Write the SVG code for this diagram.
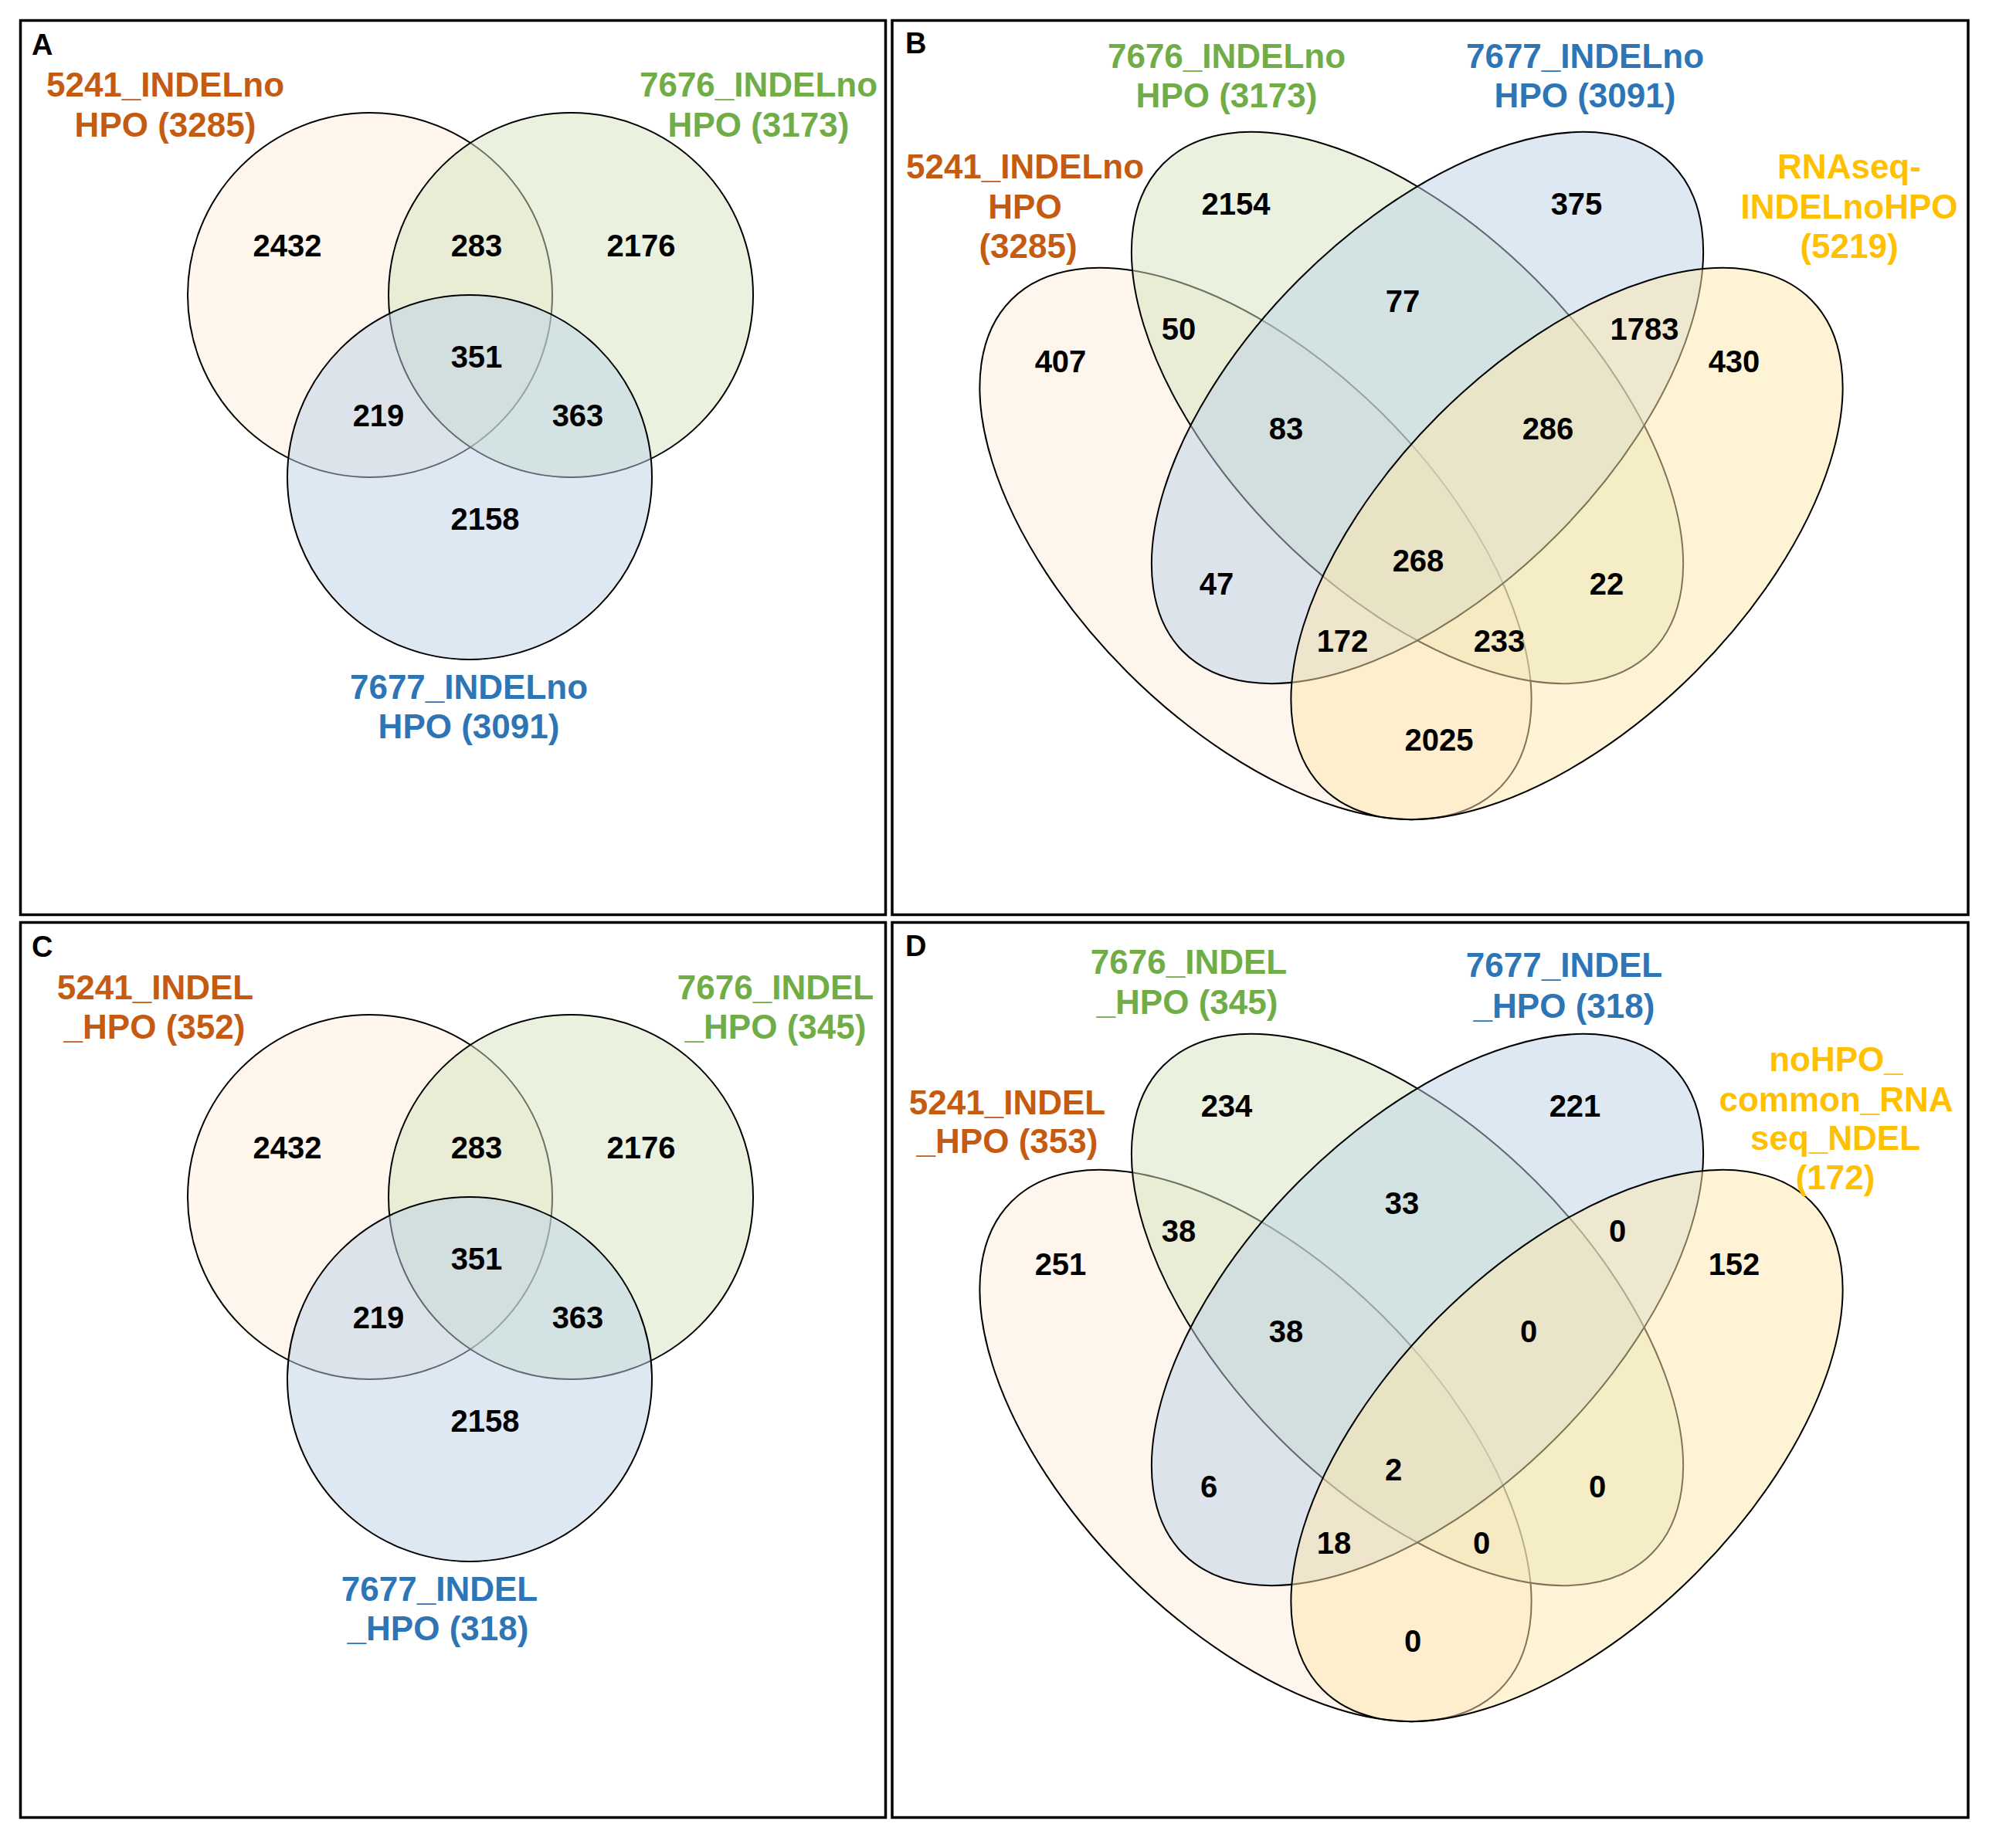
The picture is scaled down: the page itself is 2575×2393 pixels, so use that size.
<svg xmlns="http://www.w3.org/2000/svg" width="2575" height="2393" viewBox="0 0 2575 2393">
<style>
.frame{fill:none;stroke:#000;stroke-width:3.5}
.set{stroke:#000;stroke-width:2;fill-opacity:0.5}
.o{fill:#FDEBD9}.g{fill:#D5E5BF}.b{fill:#BBD1E7}.y{fill:#FFE7AD}
text{font-family:"Liberation Sans",Arial,sans-serif;font-weight:bold}
.num{font-size:40px;text-anchor:middle;fill:#000}
.lbl{font-size:44px;text-anchor:middle}
.tag{font-size:38px;fill:#000}
.co{fill:#C55A11}.cg{fill:#70AD47}.cb{fill:#2E75B6}.cy{fill:#FFC000}
</style>
<rect width="2575" height="2393" fill="#fff"/>

<g id="panelA">
<rect class="frame" x="26.5" y="26.5" width="1120" height="1158"/>
<text class="tag" x="41" y="71">A</text>
<g id="A_5241"><circle class="set o" cx="479" cy="382" r="236"/></g>
<g id="A_7676"><circle class="set g" cx="739" cy="382" r="236"/></g>
<g id="A_7677"><circle class="set b" cx="608" cy="618" r="236"/></g>
<text class="lbl co" x="214" y="125">5241_INDELno</text>
<text class="lbl co" x="214" y="177">HPO (3285)</text>
<text class="lbl cg" x="982" y="125">7676_INDELno</text>
<text class="lbl cg" x="982" y="177">HPO (3173)</text>
<text class="lbl cb" x="607" y="905">7677_INDELno</text>
<text class="lbl cb" x="607" y="956">HPO (3091)</text>
<text class="num" x="372" y="332">2432</text>
<text class="num" x="617" y="332">283</text>
<text class="num" x="830" y="332">2176</text>
<text class="num" x="617" y="476">351</text>
<text class="num" x="490" y="552">219</text>
<text class="num" x="748" y="552">363</text>
<text class="num" x="628" y="686">2158</text>
</g>

<g id="panelB">
<rect class="frame" x="1155" y="26.5" width="1393" height="1158"/>
<text class="tag" x="1172" y="69">B</text>
<g id="B_5241"><ellipse class="set o" cx="1625.5" cy="704" rx="447" ry="235" transform="rotate(45 1625.5 704)"/></g>
<g id="B_7676"><ellipse class="set g" cx="1822" cy="528" rx="447" ry="235" transform="rotate(45 1822 528)"/></g>
<g id="B_7677"><ellipse class="set b" cx="1848" cy="528" rx="447" ry="235" transform="rotate(-45 1848 528)"/></g>
<g id="B_RNAseq"><ellipse class="set y" cx="2028.5" cy="704" rx="447" ry="235" transform="rotate(-45 2028.5 704)"/></g>
<text class="lbl cg" x="1588" y="88">7676_INDELno</text>
<text class="lbl cg" x="1588" y="139">HPO (3173)</text>
<text class="lbl cb" x="2052" y="88">7677_INDELno</text>
<text class="lbl cb" x="2052" y="139">HPO (3091)</text>
<text class="lbl co" x="1327" y="231">5241_INDELno</text>
<text class="lbl co" x="1327" y="283">HPO</text>
<text class="lbl co" x="1331" y="334">(3285)</text>
<text class="lbl cy" x="2394" y="231">RNAseq-</text>
<text class="lbl cy" x="2394" y="283">INDELnoHPO</text>
<text class="lbl cy" x="2394" y="334">(5219)</text>
<text class="num" x="1600" y="278">2154</text>
<text class="num" x="2041" y="278">375</text>
<text class="num" x="1816" y="404">77</text>
<text class="num" x="1526" y="440">50</text>
<text class="num" x="2129" y="440">1783</text>
<text class="num" x="1373" y="482">407</text>
<text class="num" x="2245" y="482">430</text>
<text class="num" x="1665" y="569">83</text>
<text class="num" x="2004" y="569">286</text>
<text class="num" x="1836" y="740">268</text>
<text class="num" x="1575" y="770">47</text>
<text class="num" x="2080" y="770">22</text>
<text class="num" x="1738" y="844">172</text>
<text class="num" x="1941" y="844">233</text>
<text class="num" x="1863" y="972">2025</text>
</g>

<g id="panelC">
<rect class="frame" x="26.5" y="1194.5" width="1120" height="1159"/>
<text class="tag" x="41" y="1239">C</text>
<g id="C_5241"><circle class="set o" cx="479" cy="1550" r="236"/></g>
<g id="C_7676"><circle class="set g" cx="739" cy="1550" r="236"/></g>
<g id="C_7677"><circle class="set b" cx="608" cy="1786" r="236"/></g>
<text class="lbl co" x="201" y="1294">5241_INDEL</text>
<text class="lbl co" x="200" y="1345">_HPO (352)</text>
<text class="lbl cg" x="1004" y="1294">7676_INDEL</text>
<text class="lbl cg" x="1004" y="1345">_HPO (345)</text>
<text class="lbl cb" x="569" y="2073">7677_INDEL</text>
<text class="lbl cb" x="567" y="2124">_HPO (318)</text>
<text class="num" x="372" y="1500">2432</text>
<text class="num" x="617" y="1500">283</text>
<text class="num" x="830" y="1500">2176</text>
<text class="num" x="617" y="1644">351</text>
<text class="num" x="490" y="1720">219</text>
<text class="num" x="748" y="1720">363</text>
<text class="num" x="628" y="1854">2158</text>
</g>

<g id="panelD">
<rect class="frame" x="1155" y="1194.5" width="1393" height="1159"/>
<text class="tag" x="1172" y="1238">D</text>
<g id="D_5241"><ellipse class="set o" cx="1625.5" cy="1872" rx="447" ry="235" transform="rotate(45 1625.5 1872)"/></g>
<g id="D_7676"><ellipse class="set g" cx="1822" cy="1696" rx="447" ry="235" transform="rotate(45 1822 1696)"/></g>
<g id="D_7677"><ellipse class="set b" cx="1848" cy="1696" rx="447" ry="235" transform="rotate(-45 1848 1696)"/></g>
<g id="D_noHPO"><ellipse class="set y" cx="2028.5" cy="1872" rx="447" ry="235" transform="rotate(-45 2028.5 1872)"/></g>
<text class="lbl cg" x="1539" y="1261">7676_INDEL</text>
<text class="lbl cg" x="1537" y="1313">_HPO (345)</text>
<text class="lbl cb" x="2025" y="1265">7677_INDEL</text>
<text class="lbl cb" x="2025" y="1318">_HPO (318)</text>
<text class="lbl co" x="1304" y="1443">5241_INDEL</text>
<text class="lbl co" x="1304" y="1493">_HPO (353)</text>
<text class="lbl cy" x="2377" y="1387">noHPO_</text>
<text class="lbl cy" x="2377" y="1439">common_RNA</text>
<text class="lbl cy" x="2376" y="1489">seq_NDEL</text>
<text class="lbl cy" x="2376" y="1540">(172)</text>
<text class="num" x="1588" y="1446">234</text>
<text class="num" x="2039" y="1446">221</text>
<text class="num" x="1815" y="1572">33</text>
<text class="num" x="1526" y="1608">38</text>
<text class="num" x="2094" y="1608">0</text>
<text class="num" x="1373" y="1651">251</text>
<text class="num" x="2245" y="1651">152</text>
<text class="num" x="1665" y="1738">38</text>
<text class="num" x="1979" y="1738">0</text>
<text class="num" x="1804" y="1917">2</text>
<text class="num" x="1565" y="1939">6</text>
<text class="num" x="2068" y="1939">0</text>
<text class="num" x="1727" y="2012">18</text>
<text class="num" x="1918" y="2012">0</text>
<text class="num" x="1829" y="2139">0</text>
</g>
</svg>
